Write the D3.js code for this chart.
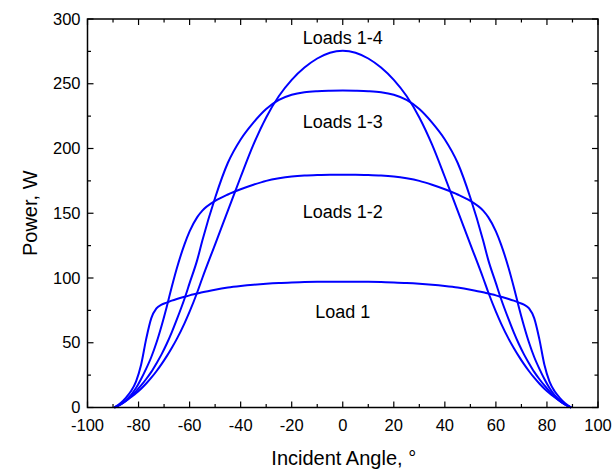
<!DOCTYPE html>
<html><head><meta charset="utf-8">
<script src="https://cdn.jsdelivr.net/npm/d3@7"></script>
<style>
body{margin:0;background:#fff;}
text{font-family:"Liberation Sans",Arial,sans-serif;fill:#000;}
</style></head>
<body><svg id="c" width="613" height="470"></svg>
<script>
const angles  = [-89.5,-87,-85,-83,-81,-79,-77,-75,-73,-71,-69,-67,-65,-62,-60,-57,-55,-50,-45,-40,-35,-30,-25,-20,-15,-10,-5,0,5,10,15,20,25,30,35,40,45,50,55,57,60,62,65,67,69,71,73,75,77,79,81,83,85,87,89.5];
const load1   = [0,3.5,7.5,12.5,20,33,53,69,76.5,79.5,81,82.5,83.8,85.5,86.6,88,89,91,92.6,93.8,94.8,95.6,96.2,96.6,96.9,97.1,97.2,97.2,97.2,97.1,96.9,96.6,96.2,95.6,94.8,93.8,92.6,91,89,88,86.6,85.5,83.8,82.5,81,79.5,76.5,69,53,33,20,12.5,7.5,3.5,0];
const loads12 = [0,2.5,5.5,9.5,15,22,30,39,50,63,77.5,93,107.5,126,136,147,152,159.5,164.5,168.5,172,175,177,178.4,179.2,179.6,179.8,179.8,179.8,179.6,179.2,178.4,177,175,172,168.5,164.5,159.5,152,147,136,126,107.5,93,77.5,63,50,39,30,22,15,9.5,5.5,2.5,0];
const loads13 = [0,2.5,5,8.5,12.5,17,22,27.5,34,41,49,58,68,84,96,114,129,162,189,207,220,230.5,237.5,241.5,243.5,244.3,244.6,244.7,244.6,244.3,243.5,241.5,237.5,230.5,220,207,189,162,129,114,96,84,68,58,49,41,34,27.5,22,17,12.5,8.5,5,2.5,0];
const loads14 = [0,2.5,5,8,11,14.5,18.5,23,28,33.5,39.5,46,53,65,74,89,100,126,152,178,203,224,240.5,253,262.5,269.5,274,275.5,274,269.5,262.5,253,240.5,224,203,178,152,126,100,89,74,65,53,46,39.5,33.5,28,23,18.5,14.5,11,8,5,2.5,0];
const seriesNames = ["Load 1","Loads 1-2","Loads 1-3","Loads 1-4"];
const labelY = [74,151.5,221,286];
const xTicks = [-100,-80,-60,-40,-20,0,20,40,60,80,100];
const yTicks = [0,50,100,150,200,250,300];

const svg = d3.select("#c");
const L=87.5, R=598, T=19, B=407.5;
const x = d3.scaleLinear().domain([-100,100]).range([L,R]);
const y = d3.scaleLinear().domain([0,300]).range([B,T]);

const series=[load1,loads12,loads13,loads14];
const line = d3.line().x((d,i)=>x(angles[i])).y(d=>y(d)).curve(d3.curveMonotoneX);
series.forEach(s=>{
  svg.append("path").attr("d",line(s)).attr("fill","none").attr("stroke","#0000ff").attr("stroke-width",2);
});

svg.append("rect").attr("x",L).attr("y",T).attr("width",R-L).attr("height",B-T)
  .attr("fill","none").attr("stroke","#000").attr("stroke-width",1.5);

const xMinor = d3.range(-90,100,20), yMinor = d3.range(25,300,50);
const g = svg.append("g").attr("stroke","#000").attr("stroke-width",1.2);
xTicks.forEach(v=>{
  g.append("line").attr("x1",x(v)).attr("x2",x(v)).attr("y1",B).attr("y2",B-6);
  g.append("line").attr("x1",x(v)).attr("x2",x(v)).attr("y1",T).attr("y2",T+6);
});
xMinor.forEach(v=>{
  g.append("line").attr("x1",x(v)).attr("x2",x(v)).attr("y1",B).attr("y2",B-3.5);
  g.append("line").attr("x1",x(v)).attr("x2",x(v)).attr("y1",T).attr("y2",T+3.5);
});
yTicks.forEach(v=>{
  g.append("line").attr("y1",y(v)).attr("y2",y(v)).attr("x1",L).attr("x2",L+6);
  g.append("line").attr("y1",y(v)).attr("y2",y(v)).attr("x1",R).attr("x2",R-6);
});
yMinor.forEach(v=>{
  g.append("line").attr("y1",y(v)).attr("y2",y(v)).attr("x1",L).attr("x2",L+3.5);
  g.append("line").attr("y1",y(v)).attr("y2",y(v)).attr("x1",R).attr("x2",R-3.5);
});

svg.selectAll(".xt").data(xTicks).enter().append("text")
  .attr("x",d=>x(d)).attr("y",B+23.5).attr("text-anchor","middle").attr("font-size",16.5).text(d=>d);
svg.selectAll(".yt").data(yTicks).enter().append("text")
  .attr("x",L-7).attr("y",d=>y(d)+5.5).attr("text-anchor","end").attr("font-size",16.5).text(d=>d);

svg.selectAll(".lab").data(seriesNames).enter().append("text")
  .attr("x",x(0)).attr("y",(d,i)=>y(labelY[i])+6.5).attr("text-anchor","middle").attr("font-size",18).text(d=>d);

svg.append("text").attr("x",x(0)+1).attr("y",465).attr("text-anchor","middle").attr("font-size",20).text("Incident Angle, °");
svg.append("text").attr("transform","translate(37,"+((T+B)/2)+") rotate(-90)").attr("text-anchor","middle").attr("font-size",20).text("Power, W");
</script></body></html>
